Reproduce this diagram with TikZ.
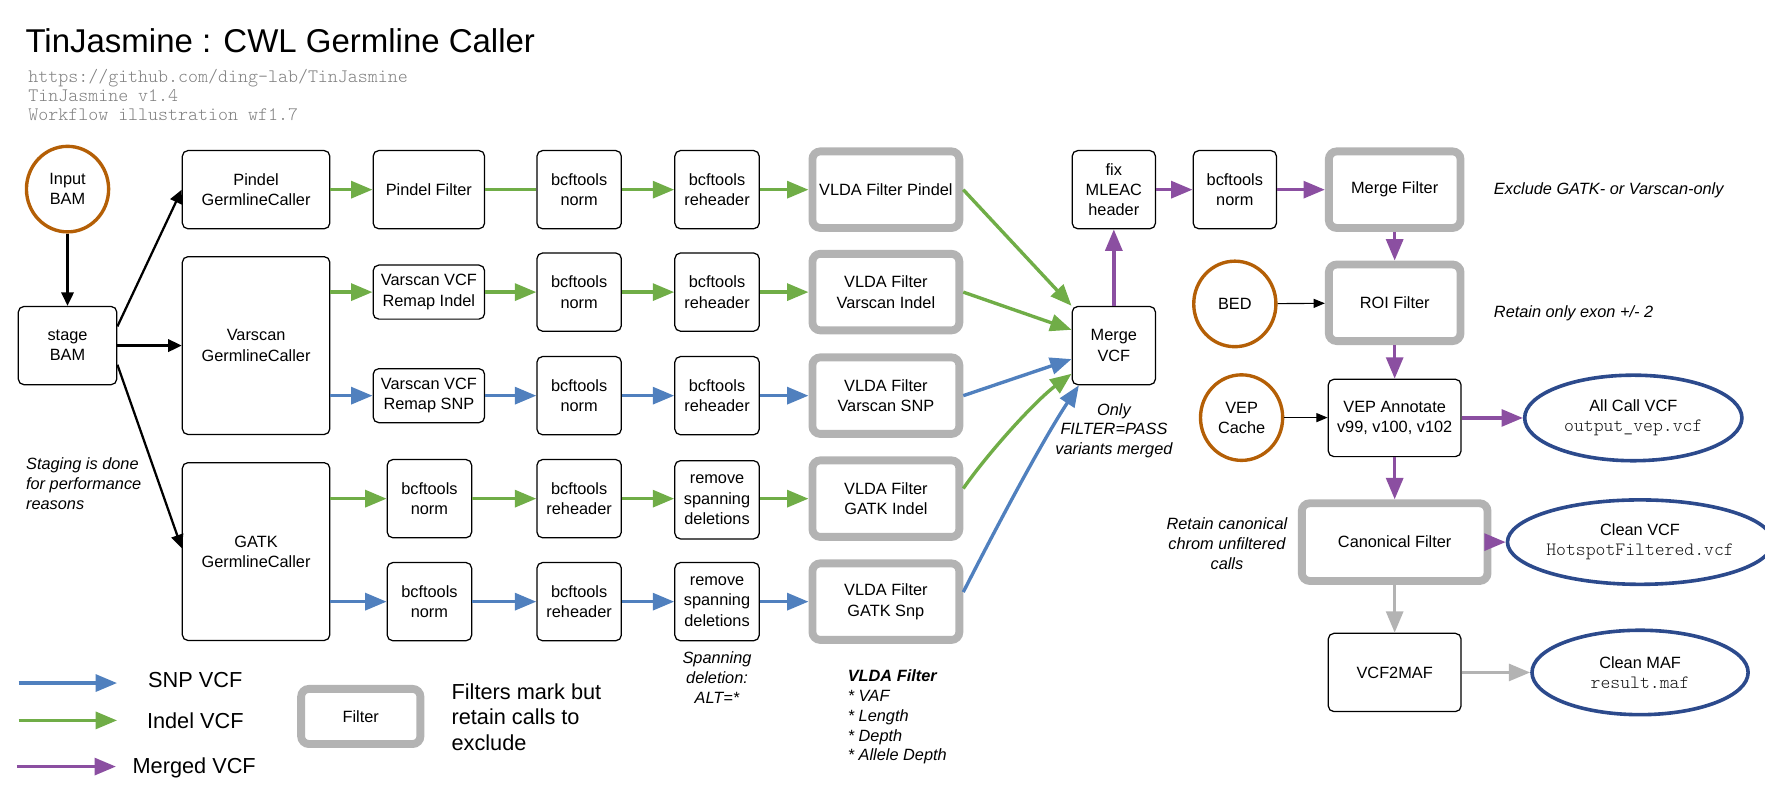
\documentclass[tikz,border=0pt]{standalone}
\usepackage{fontspec}
\setmainfont{Liberation Sans}
\setmonofont{Latin Modern Mono Light}
\usetikzlibrary{arrows.meta,shapes.geometric,calc}

\definecolor{indelgreen}{RGB}{112,173,71}
\definecolor{snpblue}{RGB}{80,128,190}
\definecolor{mergedpurple}{RGB}{139,79,161}
\definecolor{filtergray}{RGB}{179,179,179}
\definecolor{inputbrown}{RGB}{180,95,6}
\definecolor{outputblue}{RGB}{44,74,140}
\definecolor{infogray}{RGB}{128,128,128}
\definecolor{filegray}{RGB}{20,20,20}

\tikzset{
  box/.style={draw, line width=1.1pt, rounded corners=5pt, align=center, inner sep=0pt,
    minimum width=#1, minimum height=69.5pt},
  box/.default=75pt,
  filterbox/.style={draw=filtergray, line width=7pt, rounded corners=7pt, align=center,
    inner sep=0pt, minimum width=#1, minimum height=68pt},
  inputnode/.style={ellipse, draw=inputbrown, line width=3pt, inner sep=0pt,
    minimum width=73pt, minimum height=76pt, align=center},
  outputnode/.style={ellipse, draw=outputblue, line width=3.2pt, inner sep=0pt,
    minimum width=193pt, minimum height=76pt, align=center},
  note/.style={font=\fontsize{14.5}{17.6}\selectfont\itshape, inner sep=0pt},
  legendtext/.style={font=\fontsize{19.3}{22.7}\selectfont, inner sep=0pt},
  flow/.style={draw=#1, line width=3pt, -{Triangle[length=19pt,width=15pt]}},
  stagearrow/.style={line width=2pt, -{Triangle[length=12pt,width=11pt]}},
  refarrow/.style={line width=1pt, -{Triangle[length=10pt,width=8pt]}},
}
\newcommand{\vcffile}[1]{{\fontsize{16.7}{18}\selectfont\ttfamily\color{filegray}#1}}

\begin{document}
\begin{tikzpicture}[x=1pt,y=-1pt,font=\fontsize{14.5}{18}\selectfont]
  \useasboundingbox (0,0) rectangle (1568,712);

  % title block
  \node[anchor=base west, inner sep=0pt, font=\fontsize{29.3}{34}\selectfont] (title) at (22.5,46.8)
    {TinJasmine : CWL Germline Caller};
  \node[anchor=west, inner sep=0pt, align=left, text=infogray,
    font=\fontsize{16.9}{17}\selectfont\ttfamily] (info) at (25,84.5)
    {https://github.com/ding-lab/TinJasmine\\TinJasmine v1.4\\Workflow illustration wf1.7};

  % inputs and callers
  \node[inputnode] (inbam) at (60,168) {Input\\BAM};
  \node[box=87.5pt] (stage) at (60,307) {stage\\BAM};
  \node[box=131pt] (pgc) at (227.5,168.5) {Pindel\\GermlineCaller};
  \node[box=131pt, minimum height=158pt] (vgc) at (227.5,307) {Varscan\\GermlineCaller};
  \node[box=131pt, minimum height=158pt] (ggc) at (227.5,490) {GATK\\GermlineCaller};

  % column 1
  \node[box=99pt] (pfilt) at (381,168.5) {Pindel Filter};
  \node[box=99pt, minimum height=48pt] (vremi) at (381,259.5) {Varscan VCF\\Remap Indel};
  \node[box=99pt, minimum height=48pt] (vrems) at (381,351.5) {Varscan VCF\\Remap SNP};
  \node[box] (gnormi) at (381.5,443) {bcftools\\norm};
  \node[box] (gnorms) at (381.5,534.5) {bcftools\\norm};

  % column 2
  \node[box] (pnorm) at (514.5,168.5) {bcftools\\norm};
  \node[box] (vnormi) at (514.5,259.5) {bcftools\\norm};
  \node[box] (vnorms) at (514.5,351.5) {bcftools\\norm};
  \node[box] (gheadi) at (514.5,443) {bcftools\\reheader};
  \node[box] (gheads) at (514.5,534.5) {bcftools\\reheader};

  % column 3
  \node[box] (phead) at (637,168.5) {bcftools\\reheader};
  \node[box] (vheadi) at (637,259.5) {bcftools\\reheader};
  \node[box] (vheads) at (637,351.5) {bcftools\\reheader};
  \node[box] (gspani) at (637,444) {remove\\spanning\\deletions};
  \node[box] (gspans) at (637,534.5) {remove\\spanning\\deletions};

  % VLDA filters
  \node[filterbox=130.5pt] (pvlda) at (787,168.5) {VLDA Filter Pindel};
  \node[filterbox=130.5pt] (vvldai) at (787,259.5) {VLDA Filter\\Varscan Indel};
  \node[filterbox=130.5pt] (vvldas) at (787,351.5) {VLDA Filter\\Varscan SNP};
  \node[filterbox=130.5pt] (gvldai) at (787,443) {VLDA Filter\\GATK Indel};
  \node[filterbox=130.5pt] (gvldas) at (787,534.5) {VLDA Filter\\GATK Snp};

  % merge and post-processing
  \node[box=74pt] (merge) at (989.5,307) {Merge\\VCF};
  \node[box=74pt] (fix) at (989.5,168.5) {fix\\MLEAC\\header};
  \node[box=74pt] (mnorm) at (1097,168.5) {bcftools\\norm};
  \node[filterbox=117pt] (mfilt) at (1239,168.5) {Merge Filter};
  \node[inputnode] (bed) at (1097,270) {BED};
  \node[filterbox=117pt] (roi) at (1239,269) {ROI Filter};
  \node[inputnode] (vepc) at (1103,371) {VEP\\Cache};
  \node[box=118pt, minimum height=68.7pt] (vep) at (1239,371.3) {VEP Annotate\\v99, v100, v102};
  \node[outputnode] (allcall) at (1451,371.3) {All Call VCF\\\vcffile{output\_vep.vcf}};
  \node[filterbox=165pt, minimum height=69pt] (canon) at (1239,481.6) {Canonical Filter};
  \node[outputnode, minimum width=192pt, minimum height=75pt] (cleanvcf) at (1457,481.6)
    {Clean VCF\\\vcffile{HotspotFiltered.vcf}};
  \node[box=118pt] (vcf2maf) at (1239,597.4) {VCF2MAF};
  \node[outputnode, minimum width=192pt, minimum height=75pt] (cleanmaf) at (1457,597.4)
    {Clean MAF\\\vcffile{result.maf}};

  % staging arrows
  \draw[stagearrow] (inbam) -- (stage);
  \draw[stagearrow] ($(stage.east)+(0,-17)$) -- (pgc.west);
  \draw[stagearrow] (stage.east) -- (vgc.west);
  \draw[stagearrow] ($(stage.east)+(0,17)$) -- ($(ggc.west)+(0,-3)$);

  % pindel row
  \draw[flow=indelgreen] (pgc) -- (pfilt);
  \draw[indelgreen, line width=3pt] (pfilt) -- (pnorm);
  \draw[flow=indelgreen] (pnorm) -- (phead);
  \draw[flow=indelgreen] (phead) -- (pvlda);

  % varscan rows
  \draw[flow=indelgreen] (vgc.east |- vremi) -- (vremi);
  \draw[flow=indelgreen] (vremi) -- (vnormi);
  \draw[flow=indelgreen] (vnormi) -- (vheadi);
  \draw[flow=indelgreen] (vheadi) -- (vvldai);
  \draw[flow=snpblue] (vgc.east |- vrems) -- (vrems);
  \draw[flow=snpblue] (vrems) -- (vnorms);
  \draw[flow=snpblue] (vnorms) -- (vheads);
  \draw[flow=snpblue] (vheads) -- (vvldas);

  % gatk rows
  \draw[flow=indelgreen] (ggc.east |- gnormi) -- (gnormi);
  \draw[flow=indelgreen] (gnormi) -- (gheadi);
  \draw[flow=indelgreen] (gheadi) -- (gheadi -| gspani.west);
  \draw[flow=indelgreen] (gspani.east |- gvldai) -- (gvldai);
  \draw[flow=snpblue] (ggc.east |- gnorms) -- (gnorms);
  \draw[flow=snpblue] (gnorms) -- (gheads);
  \draw[flow=snpblue] (gheads) -- (gspans);
  \draw[flow=snpblue] (gspans) -- (gvldas);

  % into merge
  \draw[flow=indelgreen] (pvlda.east) -- (merge.north west);
  \draw[flow=indelgreen] (vvldai.east) -- ($(merge.west)+(0,-14)$);
  \draw[flow=snpblue] (vvldas.east) -- ($(merge.west)+(0,12)$);
  \draw[flow=indelgreen] ($(gvldai.east)+(0,-9)$) .. controls +(23,-33) and +(-32,24) .. ($(merge.west)+(0,25)$);
  \draw[flow=snpblue] ($(gvldas.east)+(0,-8.5)$) .. controls +(28,-55) and +(-33,50) .. ($(merge.south west)+(6.5,0)$);

  % merged stream
  \draw[flow=mergedpurple] (merge) -- (fix);
  \draw[flow=mergedpurple] (fix) -- (mnorm);
  \draw[flow=mergedpurple] (mnorm) -- (mfilt);
  \draw[flow=mergedpurple] (mfilt) -- (roi);
  \draw[refarrow] (bed) -- (roi);
  \draw[flow=mergedpurple] (roi) -- (vep);
  \draw[refarrow] (vepc) -- (vepc -| vep.west);
  \draw[flow=mergedpurple] (vep) -- (allcall);
  \draw[flow=mergedpurple] (vep) -- (canon);
  \draw[flow=mergedpurple] (canon) -- (cleanvcf);
  \draw[flow=filtergray] (canon) -- (vcf2maf);
  \draw[flow=filtergray] (vcf2maf) -- (cleanmaf);

  % notes
  \node[note, anchor=west, align=left] (stagenote) at (23,429.5) {Staging is done\\for performance\\reasons};
  \node[note, align=center] (spannote) at (637,602) {Spanning\\deletion:\\ALT=*};
  \node[note, anchor=west, align=left] (vldanote) at (753,637)
    {\textbf{VLDA Filter}\\* VAF\\* Length\\* Depth\\* Allele Depth};
  \node[note, align=center] (mergenote) at (989.6,382.6) {Only\\FILTER=PASS\\variants merged};
  \node[note, anchor=west] (mfiltnote) at (1327,169.4) {Exclude GATK- or Varscan-only};
  \node[note, anchor=west] (roinote) at (1327,278.3) {Retain only exon +/- 2};
  \node[note, align=center] (canonnote) at (1090,483) {Retain canonical\\chrom unfiltered\\calls};

  % legend
  \coordinate (snpa) at (16.5,606.8);
  \coordinate (snpb) at (104,606.8);
  \coordinate (indela) at (16.5,640);
  \coordinate (indelb) at (104,640);
  \coordinate (mergeda) at (15,681);
  \coordinate (mergedb) at (103,681);
  \draw[flow=snpblue] (snpa) -- (snpb);
  \draw[flow=indelgreen] (indela) -- (indelb);
  \draw[flow=mergedpurple] (mergeda) -- (mergedb);
  \node[legendtext] (snplab) at (173.5,604) {SNP VCF};
  \node[legendtext] (indellab) at (173.5,640) {Indel VCF};
  \node[legendtext] (mergedlab) at (172.5,682) {Merged VCF};
  \node[filterbox=106pt, minimum height=49pt] (legfilt) at (320.5,636.5) {Filter};
  \node[legendtext, anchor=west, align=left] (legnote) at (401,637) {Filters mark but\\retain calls to\\exclude};
\end{tikzpicture}
\end{document}
